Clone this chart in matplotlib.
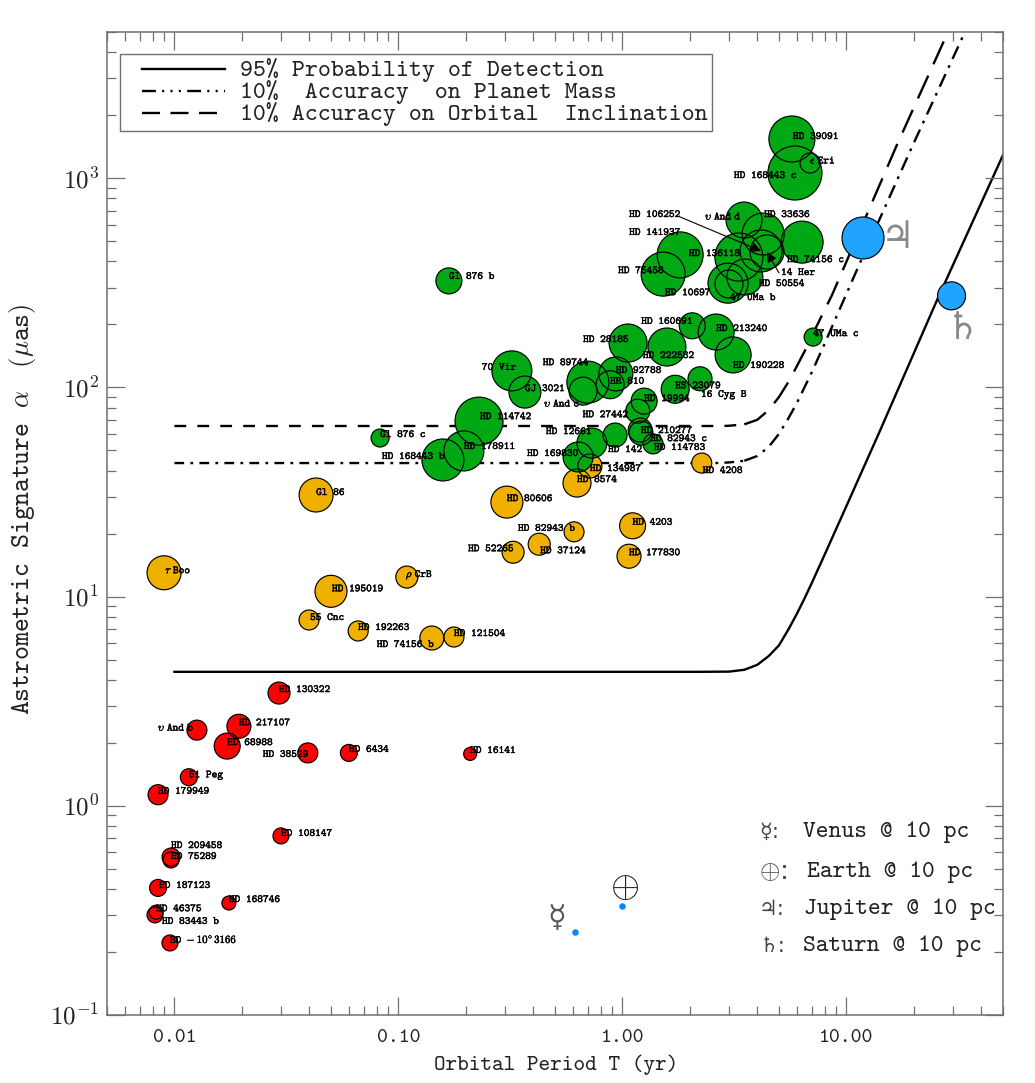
import matplotlib
matplotlib.use('Agg')
import matplotlib.pyplot as plt
import matplotlib.patheffects as pe
from matplotlib.lines import Line2D
from matplotlib.patches import Rectangle
from matplotlib.ticker import LogLocator, NullFormatter, FixedLocator, FixedFormatter

plt.rcParams['font.family'] = ['cmtt10', 'DejaVu Sans']
plt.rcParams['mathtext.fontset'] = 'cm'
plt.rcParams['axes.unicode_minus'] = False
plt.rcParams['axes.formatter.use_mathtext'] = True
plt.rcParams['lines.scale_dashes'] = False

# planets: period (yr), astrometric signature (uas), bubble radius
green_names = ['HD 39091', r'$\epsilon\ \mathtt{Eri}$', 'HD 168443 c', r'$\upsilon\ \mathtt{And\ d}$', 'HD 33636',
               'HD 74156 c', 'HD 106252', '14 Her', 'HD 141937', 'HD 75458', 'HD 136118', 'HD 10697', '47 UMa b',
               'HD 50554', 'HD 160691', 'HD 213240', 'HD 190228', 'HD 28185', 'HD 222582', '70 Vir', 'GJ 3021',
               'HD 89744', r'$\upsilon\ \mathtt{And\ c}$', 'HD 92788', 'HR 810', '16 Cyg B', 'HS 23079', 'HD 19994',
               'HD 27442', 'HD 12661', 'HD 142', 'HD 210277', 'HD 82943 c', 'HD 114783', 'HD 169830', 'HD 114742',
               'HD 178911', 'HD 168443 b', 'Gl 876 c', 'Gl 876 b', '47 UMa c']
green_period = [5.71, 6.88, 5.89, 3.49, 4.25, 6.34, 4.16, 4.42, 1.81, 1.52, 3.31, 2.96, 2.99, 3.52, 2.05, 2.62, 3.12,
                1.06, 1.58, 0.321, 0.367, 0.701, 0.667, 0.935, 0.881, 2.22, 1.72, 1.25, 1.17, 0.731, 0.927, 1.21,
                1.20, 1.37, 0.634, 0.229, 0.196, 0.158, 0.0828, 0.168, 7.10]
green_alpha = [1540, 1182, 1059, 631, 541, 495, 449, 444, 430, 348, 420, 315, 312, 337, 197, 184, 143, 163, 156, 120,
               95, 106, 96, 116, 103, 110, 98, 86, 77, 54.2, 59.2, 60.5, 62.5, 53.7, 46.5, 69, 49.7, 45, 57.3, 323,
               174]
green_size = [23, 10, 27, 18, 21, 21, 21, 17, 23, 22, 24, 20, 14, 18, 13, 18, 18, 19, 19, 20, 16, 21, 14, 17, 14, 12,
              14, 13, 12, 15, 12, 12, 12, 10, 15, 24, 20, 21, 9, 13, 9]

orange_names = ['HD 134987', 'HD 8574', 'HD 4208', 'HD 80606', 'HD 82943 b', 'HD 37124', 'HD 52265', 'HD 4203',
                'HD 177830', r'$\rho\ \mathtt{CrB}$', 'Gl 86', r'$\tau\ \mathtt{Boo}$', 'HD 195019', '55 Cnc',
                'HD 192263', 'HD 74156 b', 'HD 121504']
orange_period = [0.716, 0.627, 2.26, 0.305, 0.608, 0.425, 0.325, 1.11, 1.07, 0.109, 0.0429, 0.00899, 0.05, 0.0399,
                 0.0661, 0.141, 0.177]
orange_alpha = [42.1, 34.9, 43.5, 28.3, 20.4, 17.8, 16.3, 21.8, 15.6, 12.4, 30.6, 13.0, 10.6, 7.73, 6.85, 6.34, 6.41]
orange_size = [12, 14, 10, 16, 10, 11, 11, 13, 12, 11, 17, 17, 16, 10, 10, 12, 10]

red_names = ['HD 130322', 'HD 217107', r'$\upsilon\ \mathtt{And\ b}$', 'HD 68988', 'HD 38529', 'HD 6434', 'HD 16141',
             '51 Peg', 'HD 179949', 'HD 108147', 'HD 209458', 'HD 75289', 'HD 187123', 'HD 168746', 'HD 46375',
             'HD 83443 b', r'$\mathtt{BD}\ -10^{\circ}\,\mathtt{3166}$']
red_period = [0.0293, 0.0194, 0.0126, 0.0172, 0.0394, 0.0601, 0.209, 0.0116, 0.00845, 0.0299, 0.00966, 0.00966,
              0.00845, 0.0175, 0.00828, 0.00819, 0.00955]
red_alpha = [3.46, 2.40, 2.30, 1.93, 1.79, 1.79, 1.77, 1.37, 1.13, 0.718, 0.569, 0.551, 0.405, 0.343, 0.310, 0.301,
             0.221]
red_size = [11, 12, 10, 13, 10, 8.5, 6.5, 8.5, 10, 8, 9, 8, 8.5, 7, 7, 8, 8]

giant_period = [11.86, 29.46]
giant_alpha = [518, 274]
giant_size = [21, 14]
small_period = [0.615, 1.0]
small_alpha = [0.249, 0.332]

# sensitivity curves, flat part then the rise
det_period = [0.01, 2.22, 3.0, 3.5, 4.0, 4.5, 5.0, 5.5, 6.0, 6.5, 7.0, 8.0, 10.0, 14.0, 25.4, 50]
det_alpha = [4.37, 4.37, 4.38, 4.47, 4.72, 5.2, 5.85, 6.95, 8.25, 9.8, 11.6, 15.9, 27.1, 60.8, 262, 1291]
mass_flat_period = [0.01, 2.64, 3.0, 3.5]
mass_flat_alpha = [43.5, 43.5, 43.8, 44.6]
mass_rise_period = [3.5, 4.0, 4.5, 5.0, 5.5, 6.0, 7.0, 7.87, 11.7, 19.8, 33.8]
mass_rise_alpha = [44.6, 47, 52, 60, 71, 84, 118, 156, 411, 1442, 5000]
incl_flat_period = [0.01, 2.81, 3.0, 3.5]
incl_flat_alpha = [65.4, 65.4, 65.6, 66.6]
incl_rise_period = [3.5, 4.0, 4.5, 5.0, 5.5, 6.0, 6.53, 7.0, 8.63, 12.4, 16.8, 28.4]
incl_rise_alpha = [66.6, 70, 78, 90, 106, 126, 150, 176, 277, 680, 1442, 5000]

# label offsets from the bubble centre in pixels, (0, 3) if not listed
label_off = {
    'HD 39091': (1, 2), r'$\epsilon\ \mathtt{Eri}$': (0, 2), 'HD 168443 c': (-61, -3),
    r'$\upsilon\ \mathtt{And\ d}$': (-39, 3), 'HD 33636': (1, 19), 'HD 74156 c': (-15, -18),
    'HD 106252': (-132, 36), '14 Her': (14, -21), 'HD 141937': (-51, 22), 'HD 75458': (-45, 3),
    'HD 136118': (-50, 3), 'HD 10697': (-63, -10), '47 UMa b': (1, -14), 'HD 50554': (14, -7),
    'HD 160691': (-51, 4), 'HD 190228': (0, -11), 'HD 28185': (-45, 3), 'HD 222582': (-24, -9),
    '70 Vir': (-30, 3), 'HD 89744': (-45, 19), r'$\upsilon\ \mathtt{And\ c}$': (-39, -13),
    '16 Cyg B': (1, -16), 'HD 19994': (0, 2), 'HD 27442': (-55, -4), 'HD 12661': (-46, 11),
    'HD 142': (-7, -15), 'HD 210277': (0, 2), 'HD 82943 c': (10, -9), 'HD 114783': (1, -4),
    'HD 169830': (-51, 3), 'HD 114742': (1, 4), 'HD 178911': (0, 4), 'HD 168443 b': (-61, 3),
    'HD 134987': (0, -3), 'HD 4208': (1, -8), 'HD 82943 b': (-56, 3), 'HD 37124': (1, -7),
    'HD 52265': (-45, 3), r'$\rho\ \mathtt{CrB}$': (-1, 2), 'Gl 86': (0, 2), r'$\tau\ \mathtt{Boo}$': (1, 2),
    '55 Cnc': (1, 2), 'HD 195019': (1, 2), 'HD 74156 b': (-55, -7), 'Gl 876 b': (0, 4),
    r'$\upsilon\ \mathtt{And\ b}$': (-39, 2), 'HD 38529': (-45, -2), '51 Peg': (0, 2), 'HD 108147': (0, 2),
    'HD 209458': (0, 11), 'HD 187123': (1, 2), 'HD 83443 b': (7, -7),
}

GREEN = '#00a814'
ORANGE = '#f0b000'
RED = '#ff0000'
BLUE = '#20a4ff'
GRAY = '#707070'
TXT = '#222222'


def area(radius):
    return [(2 * r * 0.72) ** 2 for r in radius]


fig = plt.figure(figsize=(10.35, 10.83), dpi=100)
ax = fig.add_axes([107 / 1035, 68 / 1083, 896 / 1035, 983 / 1083])
ax.set_xscale('log')
ax.set_yscale('log')
ax.set_xlim(0.005, 50)
ax.set_ylim(0.1, 5000)

ax.plot(det_period, det_alpha, color='k', lw=1.7, zorder=1)
ax.plot(mass_flat_period, mass_flat_alpha, color='k', lw=1.7, ls=(0, (7, 4.5, 2, 4.5)), zorder=1)
ax.plot(mass_rise_period, mass_rise_alpha, color='k', lw=1.7, ls=(0, (10, 5, 2, 5)), zorder=1)
ax.plot(incl_flat_period, incl_flat_alpha, color='k', lw=1.7, ls=(0, (8.5, 8)), zorder=1)
ax.plot(incl_rise_period, incl_rise_alpha, color='k', lw=1.7, ls=(0, (18, 9)), zorder=1)

# fills first, outlines on top so overlapping circles all show
ax.scatter(orange_period, orange_alpha, s=area(orange_size), color=ORANGE, linewidths=0, zorder=2)
ax.scatter(red_period, red_alpha, s=area(red_size), color=RED, linewidths=0, zorder=2)
ax.scatter(green_period, green_alpha, s=area(green_size), color=GREEN, linewidths=0, zorder=2)
ax.scatter(giant_period, giant_alpha, s=area(giant_size), color=BLUE, linewidths=0, zorder=2)
for per, alp, siz in [(orange_period, orange_alpha, orange_size), (red_period, red_alpha, red_size),
                      (green_period, green_alpha, green_size), (giant_period, giant_alpha, giant_size)]:
    ax.scatter(per, alp, s=area(siz), facecolors='none', edgecolors='k', linewidths=0.85, zorder=3)
ax.scatter(small_period, small_alpha, s=22, color='#0a84ff', linewidths=0, zorder=3)

bolder = [pe.withStroke(linewidth=0.3, foreground='k')]
for names, per, alp in [(green_names, green_period, green_alpha), (orange_names, orange_period, orange_alpha),
                        (red_names, red_period, red_alpha)]:
    for n, p, a in zip(names, per, alp):
        ax.annotate(n, xy=(p, a), xytext=label_off.get(n, (0, 3)), textcoords='offset pixels',
                    ha='left', va='center', fontsize=7.8, color='k', zorder=4, path_effects=bolder)

i = green_names.index('HD 106252')
ax.annotate('', xy=(green_period[i], green_alpha[i]), xytext=(-81, 34), textcoords='offset pixels', zorder=4,
            arrowprops=dict(arrowstyle='-|>', color='k', lw=0.8, mutation_scale=15, shrinkA=0, shrinkB=0))
i = green_names.index('14 Her')
ax.annotate('', xy=(green_period[i], green_alpha[i]), xytext=(12, -21), textcoords='offset pixels', zorder=4,
            arrowprops=dict(arrowstyle='-|>', color='k', lw=0.8, mutation_scale=15, shrinkA=0, shrinkB=0))

# axes, gray ticks inside on all sides
for s in ax.spines.values():
    s.set_color(GRAY)
    s.set_linewidth(1.1)
ax.xaxis.set_major_locator(FixedLocator([0.01, 0.1, 1, 10]))
ax.xaxis.set_major_formatter(FixedFormatter(['0.01', '0.10', '1.00', '10.00']))
ax.xaxis.set_minor_locator(LogLocator(base=10, subs=range(2, 10), numticks=12))
ax.xaxis.set_minor_formatter(NullFormatter())
ax.yaxis.set_major_locator(FixedLocator([0.1, 1, 10, 100, 1000]))
ax.yaxis.set_major_formatter(FixedFormatter(['$10^{-1}$', '$10^{0}$', '$10^{1}$', '$10^{2}$', '$10^{3}$']))
ax.yaxis.set_minor_locator(LogLocator(base=10, subs=range(2, 10), numticks=12))
ax.yaxis.set_minor_formatter(NullFormatter())
ax.tick_params(which='major', direction='in', top=True, right=True, length=13, width=0.9, color=GRAY)
ax.tick_params(which='minor', direction='in', top=True, right=True, length=6.5, width=0.9, color=GRAY)
ax.tick_params(axis='x', which='major', labelsize=15, pad=10, labelcolor=TXT)
ax.tick_params(axis='y', which='major', labelsize=18, pad=6, labelcolor=TXT)

fig.text(556 / 1035, 1 - 1065 / 1083, 'Orbital Period T (yr)', ha='center', va='center', fontsize=16, color=TXT)
fig.text(23 / 1035, 1 - 509 / 1083, r'$\mathtt{Astrometric\ \ Signature}\ \ \alpha\ \ \ (\mu\mathtt{as})$',
         rotation=90, ha='center', va='center', fontsize=19, color=TXT)

# legend box
fig.add_artist(Rectangle((120 / 1035, 1 - 131 / 1083), 592 / 1035, 77 / 1083, transform=fig.transFigure,
                         facecolor='white', edgecolor=GRAY, linewidth=1))
leg_text = ['95% Probability of Detection', '10%  Accuracy  on Planet Mass', '10% Accuracy on Orbital  Inclination']
leg_style = ['-', (0, (10, 4.5, 1.5, 4.5, 1.5, 4.5, 1.5, 4.5)), (0, (13, 7.5))]
leg_y = [69, 91, 113]
for t, st, y in zip(leg_text, leg_style, leg_y):
    fig.add_artist(Line2D([142 / 1035, 225 / 1035], [1 - y / 1083] * 2, color='k', lw=1.7, ls=st,
                          transform=fig.transFigure))
    fig.text(240 / 1035, 1 - (y + 1) / 1083, t, ha='left', va='center', fontsize=17.8, color=TXT)

# key at the lower right
key_text = ['Venus @ 10 pc', 'Earth @ 10 pc', 'Jupiter @ 10 pc', 'Saturn @ 10 pc']
key_sym = ['\u263f:', r'$\oplus$:', '\u2643:', '\u2644:']
key_x = [803, 807, 804, 803]
key_y = [832, 872, 909, 946]
key_fs = [15, 19, 15, 15]
for t, sym, x, y, fs in zip(key_text, key_sym, key_x, key_y, key_fs):
    fig.text(759 / 1035, 1 - y / 1083, sym, ha='left', va='center', fontsize=fs, family=['DejaVu Sans'],
             color='#444444')
    fig.text(x / 1035, 1 - y / 1083, t, ha='left', va='center', fontsize=17.5, color=TXT)

# planet symbols next to the marks
ax.annotate('\u2643', xy=(giant_period[0], giant_alpha[0]), xytext=(35, 0), textcoords='offset pixels', ha='center',
            va='center', fontsize=27, family=['DejaVu Sans'], color='#888888')
ax.annotate('\u2644', xy=(giant_period[1], giant_alpha[1]), xytext=(11, -33), textcoords='offset pixels', ha='center',
            va='center', fontsize=27, family=['DejaVu Sans'], color='#888888')
ax.annotate('\u263f', xy=(small_period[0], small_alpha[0]), xytext=(-18, 14), textcoords='offset pixels', ha='center',
            va='center', fontsize=22, family=['DejaVu Sans'], color='#555555')
ax.annotate(r'$\oplus$', xy=(small_period[1], small_alpha[1]), xytext=(2, 17), textcoords='offset pixels', ha='center',
            va='center', fontsize=27, color='#222222')

fig.savefig('out.png', dpi=100)
